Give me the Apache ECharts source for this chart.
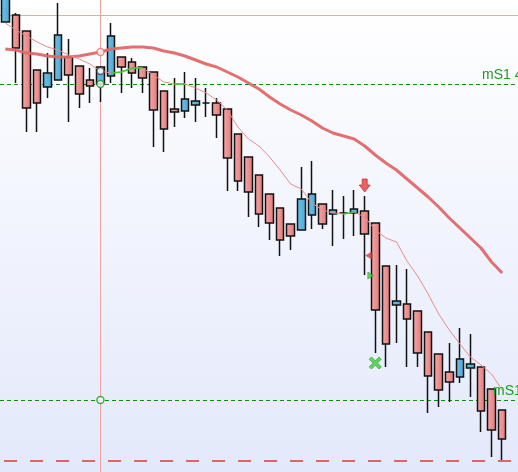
<!DOCTYPE html>
<html><head><meta charset="utf-8">
<script src="https://cdn.jsdelivr.net/npm/echarts@6/dist/echarts.min.js"></script>
<style>html,body{margin:0;padding:0;background:#fff;}#c{width:518px;height:472px;}</style>
</head><body><div id="c"></div>
<script>
const categories = ['1','2','3','4','5','6','7','8','9','10','11','12','13','14','15','16','17','18','19','20','21','22','23','24','25','26','27','28','29','30','31','32','33','34','35','36','37','38','39','40','41','42','43','44','45','46','47','48','49'];
const openVals  = [4285,4288.5,4280.5,4261,4252.5,4256,4267.5,4263,4256,4254,4258,4267.5,4265,4262.5,4260,4250.5,4241.5,4240.5,4243.5,4244.5,4244.5,4241.5,4229,4217.5,4208.5,4199,4192,4184,4181,4188.5,4194,4189,4189.5,4189.5,4190.5,4184.5,4163,4143.5,4144,4140.5,4130,4119,4110,4107.5,4112,4112.5,4101.5,4091];
const closeVals = [4297,4272,4242,4244.5,4259.5,4278.5,4258.5,4249,4253,4262.5,4278,4262.5,4259.5,4257,4241,4231.5,4240,4246.5,4245.5,4244.5,4238.5,4217,4205.5,4200,4189,4184.5,4176,4178,4196.5,4199,4184,4191,4189.5,4191.5,4179,4141,4124,4145.5,4136.5,4119.5,4108,4101,4105,4116.5,4114,4090.5,4081,4076.5];
const lowVals   = [4285,4254.5,4230,4230,4247,4256,4235,4242,4244.5,4245,4254.5,4249.5,4252,4249.5,4222.5,4220,4232.5,4237,4235,4237.5,4227,4200.5,4200.5,4187.5,4182.5,4176,4168,4171,4181,4181.5,4181.5,4173,4176.5,4178,4158.5,4119.5,4112.5,4124.5,4112.5,4112.5,4089.5,4092.5,4095,4104.5,4097.5,4080,4067.5,4066];
const highVals  = [4298.5,4289.5,4280.5,4261,4269.5,4294.5,4276.5,4263,4262,4263,4284.5,4267.5,4267,4262.5,4260,4250.5,4257,4260,4257,4252,4247,4241.5,4229,4217.5,4208.5,4199,4192,4184,4212.5,4215.5,4194,4201,4198,4201,4198,4184.5,4163,4163.5,4161.5,4140.5,4130,4119,4124.5,4132,4129,4112.5,4101.5,4091];
const maSlow = [4271.5,4271,4269.5,4269,4268,4267.5,4267.5,4268,4269,4270,4271.5,4272,4272.5,4272.5,4272,4270.5,4269.5,4268,4266,4264,4262.5,4260,4257.5,4254.5,4251.5,4247.5,4244,4241,4238.5,4235.5,4232,4229.5,4228,4226.5,4223,4218.5,4214.5,4211,4206.5,4202,4197.5,4192.5,4187,4182,4177,4172,4165,4159.5];
const maFast = [4284.5,4281,4278,4275,4272.5,4271,4268.5,4266.5,4264,4260.5,4259.5,4260,4262,4262,4258.5,4255,4254,4254,4252,4249.5,4246,4241,4232.5,4226.5,4223,4217.5,4211,4204,4201.5,4194.5,4191,4189.5,4189,4190,4187.5,4181,4177,4175,4165.5,4158,4149,4139,4131,4124,4117.5,4113.5,4109,4101];
const greenSegments = [[10,13],[16,17],[32,33]];
const supportLevels = [4254, 4096];
const supportLabels = ['mS1 4254.00', 'mS1 4096.00'];
const stopLevel = 4065.5;
const crossIndex = 9;
const crossLevel = 4288.5;
const signalArrowDown = [34, 4203.25];
const signalLeft = [35, 4168.25];
const signalRight = [35, 4158.25];
const signalCross = [35, 4114.5];

const ohlc = openVals.map((o, i) => [o, closeVals[i], lowVals[i], highVals[i]]);
const greenData = maFast.map((v, i) => greenSegments.some(s => i >= s[0] && i <= s[1]) ? v : null);

const chart = echarts.init(document.getElementById('c'), null, {renderer: 'canvas'});
const pinkGrad = {type:'linear', x:0, y:0, x2:1, y2:0, colorStops:[{offset:0,color:'#f6abab'},{offset:1,color:'#e27777'}]};
const blueGrad = {type:'linear', x:0, y:0, x2:1, y2:0, colorStops:[{offset:0,color:'#6cc0e6'},{offset:1,color:'#4ea9d6'}]};

const option = {
  animation: false,
  backgroundColor: {type:'linear', x:0, y:0, x2:0, y2:1, colorStops:[{offset:0,color:'#ffffff'},{offset:1,color:'#e3e9fb'}]},
  grid: {left: -4.07, right: -3.7, top: 0, bottom: 0},
  xAxis: {type:'category', data: categories, boundaryGap: true, show: false},
  yAxis: {type:'value', min: 4060, max: 4296, show: false},
  series: [
    {
      type: 'candlestick', data: ohlc, barWidth: 8, clip: false, z: 2,
      itemStyle: {color: blueGrad, color0: pinkGrad, borderColor: '#111', borderColor0: '#111', borderColorDoji: '#111', borderWidth: 1.5},
      markLine: {
        silent: true, symbol: ['none','none'], label: {show: false}, z: 1,
        data: [
          {yAxis: supportLevels[0], lineStyle: {color:'#0b900b', width:1.2, type:[4,3]}},
          {yAxis: supportLevels[1], lineStyle: {color:'#0b900b', width:1.2, type:[4,3]}},
          {yAxis: stopLevel, lineStyle: {color:'#e06464', width:2, type:[13,13], dashOffset: 21.93}},
          {yAxis: crossLevel, lineStyle: {color:'#f4a3a3', width:1, type:'solid'}},
          {xAxis: categories[crossIndex], lineStyle: {color:'#f4a3a3', width:1, type:'solid'}}
        ]
      }
    },
    {type:'line', data: maSlow, showSymbol:false, z:3, lineStyle:{color:'#e06868', width:3, opacity:0.95}},
    {type:'line', data: maFast, showSymbol:false, z:3, lineStyle:{color:'#ee8a8a', width:1}},
    {type:'line', data: greenData, showSymbol:false, z:4, connectNulls:false, lineStyle:{color:'#33cc33', width:1.5}},
    {
      type:'scatter', z: 6, silent: true,
      data: [
        {value:[crossIndex, maSlow[crossIndex]], symbol:'circle', symbolSize:7, itemStyle:{color:'#fff', borderColor:'#e87070', borderWidth:1.5}},
        {value:[crossIndex, maFast[crossIndex]], symbol:'circle', symbolSize:7, itemStyle:{color:'#fff', borderColor:'#444', borderWidth:1.5}},
        {value:[crossIndex, supportLevels[0]], symbol:'circle', symbolSize:7, itemStyle:{color:'#fff', borderColor:'#1a9a1a', borderWidth:1.5}},
        {value:[crossIndex, supportLevels[1]], symbol:'circle', symbolSize:7, itemStyle:{color:'#fff', borderColor:'#1a9a1a', borderWidth:1.5}},
        {value: signalArrowDown, symbol:'path://M3,0 L8,0 L8,6 L11,6 L5.5,13 L0,6 L3,6 Z', symbolSize:[11,13], itemStyle:{color:'#e83c3c', borderColor:'#b02020', borderWidth:0.8}},
        {value: signalLeft, symbol:'path://M0,3.5 L5,0 L5,7 Z', symbolSize:[6,7], symbolOffset:[-6.5,0], itemStyle:{color:'#e83c3c', borderColor:'#c02020', borderWidth:0.6}},
        {value: signalRight, symbol:'path://M0,0 L5,3.5 L0,7 Z', symbolSize:[6,7], symbolOffset:[-4.5,0], itemStyle:{color:'#44cc44', borderColor:'#1c8a1c', borderWidth:0.6}},
        {value: signalCross, symbol:'path://M2,0 L5.5,3.5 L9,0 L11,2 L7.5,5.5 L11,9 L9,11 L5.5,7.5 L2,11 L0,9 L3.5,5.5 L0,2 Z', symbolSize:[12,12], itemStyle:{color:'#3fcc3f', borderColor:'#1f9a1f', borderWidth:0.8}}
      ]
    }
  ]
};
chart.setOption(option);

const labelX = [482, 493];
chart.setOption({
  graphic: supportLevels.map((lv, i) => ({
    type: 'text', z: 100, silent: true,
    x: labelX[i], y: chart.convertToPixel({yAxisIndex: 0}, lv) - 2,
    style: {text: supportLabels[i], fill: '#1f9a1f', font: '14px "Liberation Sans", Arial, sans-serif', textVerticalAlign: 'bottom', verticalAlign: 'bottom'}
  }))
});
</script>
</body></html>
